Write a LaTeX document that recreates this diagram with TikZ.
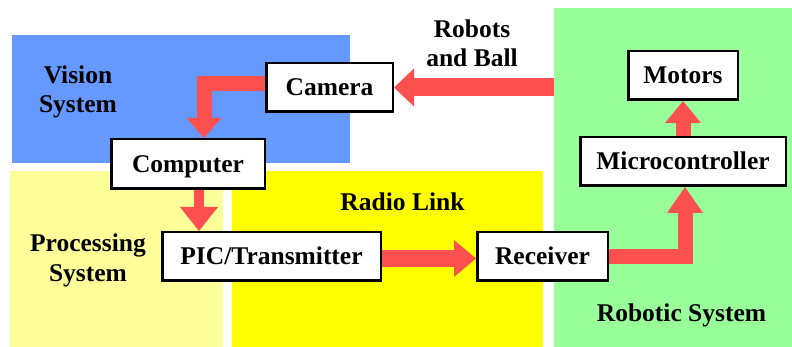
\documentclass[tikz,border=0pt]{standalone}
\usepackage{fontspec}
\setmainfont{Liberation Serif}
\usetikzlibrary{arrows.meta}
\pgfdeclarelayer{back}
\pgfsetlayers{back,main}
\definecolor{visionblue}{HTML}{6699FF}
\definecolor{procyellow}{HTML}{FFFF99}
\definecolor{radioyellow}{HTML}{FFFF00}
\definecolor{robotgreen}{HTML}{99FF99}
\definecolor{flowred}{HTML}{FF5050}
\newcommand\diagfont{\fontsize{25.5}{29.5}\selectfont\bfseries}

\begin{document}
\begin{tikzpicture}[x=1pt,y=-1pt,
  block/.style={draw=black, line width=2.5pt, fill=white, inner sep=0pt,
                font=\diagfont, text height=16.5pt, text depth=0pt},
  tag/.style={font=\diagfont, align=center, inner sep=0pt, anchor=base},
  flow/.style n args={3}{draw=flowred, line width=#1, line join=miter,
                -{Triangle[width=#2,length=#3,line width=0pt]}}]
\useasboundingbox (0,0) rectangle (792,347);

% functional blocks
\node[block, minimum width=126.5pt, minimum height=48.5pt] (cam)  at (329.5,87.5) {Camera};
\node[block, minimum width=153.5pt, minimum height=49.5pt] (comp) at (188,164)    {Computer};
\node[block, minimum width=218.5pt, minimum height=48.5pt] (pic)  at (271.5,256.5) {PIC/Transmitter};
\node[block, minimum width=130.5pt, minimum height=48.5pt] (rcv)  at (542.5,256.5) {Receiver};
\node[block, minimum width=205.5pt, minimum height=48.5pt] (mcu)  at (683,161.5)  {Microcontroller};
\node[block, minimum width=109.5pt, minimum height=48.5pt] (mot)  at (683,75.5)   {Motors};

% subsystem captions (anchored at the baseline of their last line)
\node[tag] (rblab)    at (472,67)    {Robots\\and Ball};
\node[tag] (vislab)   at (78,113)    {Vision\\System};
\node[tag] (proclab)  at (88,281)    {Processing\\System};
\node[tag] (radiolab) at (402.5,211) {Radio Link};
\node[tag] (robolab)  at (681.5,321) {Robotic System};

\begin{pgfonlayer}{back}
  % subsystem areas
  \fill[visionblue]  (12,35)  rectangle (350,163);
  \fill[procyellow]  (10,171) rectangle (223,347);
  \fill[radioyellow] (232,171) rectangle (543,347);
  \fill[robotgreen]  (554,8)  rectangle (792,347);

  % signal flow
  \coordinate (field) at (554,87.5);
  \draw[flow={18pt}{38pt}{20pt}] (field) -- (cam.east);
  \draw[flow={15pt}{35pt}{20pt}] ([yshift=3.5pt]cam.west) -| ([xshift=16pt]comp.north);
  \draw[flow={10pt}{38pt}{24pt}] ([xshift=11pt]comp.south) -- ([xshift=11pt]comp.south |- pic.north);
  \draw[flow={17pt}{37pt}{22pt}] ([yshift=-2pt]pic.east) -- ([yshift=-2pt]rcv.west);
  \draw[flow={15pt}{36pt}{26pt}] (rcv.east) -| ([xshift=2pt]mcu.south);
  \draw[flow={15pt}{36pt}{22pt}] (mcu.north) -- (mot.south);
\end{pgfonlayer}
\end{tikzpicture}
\end{document}
